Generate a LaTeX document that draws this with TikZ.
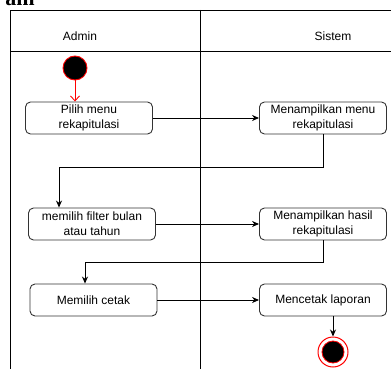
\documentclass[tikz,border=0pt]{standalone}
\usepackage{fontspec}
\setmainfont{Liberation Sans}
\newfontfamily\headfont{Liberation Serif}
\usetikzlibrary{arrows.meta,calc}
\begin{document}
\begin{tikzpicture}[x=1pt,y=-1pt,
  act/.style={draw=black!80, line width=0.9pt, rounded corners=5pt, minimum width=127pt, minimum height=32pt, align=center, inner sep=1pt, font=\fontsize{12}{15}\selectfont},
  lane/.style={draw=black, line width=0.9pt},
  flow/.style={draw=black, line width=0.9pt, -{Stealth[length=7pt,width=6pt]}},
  lbl/.style={font=\fontsize{12}{14}\selectfont},
  startst/.style={circle, fill=black, draw=red, line width=0.9pt, minimum size=24pt, inner sep=0pt},
  endring/.style={circle, draw=red, line width=1pt, minimum size=30pt, inner sep=0pt},
  endcore/.style={circle, fill=black, draw=red, line width=0.8pt, minimum size=22pt, inner sep=0pt}
]
\useasboundingbox (0,0) rectangle (391,369);
\clip (0,0) rectangle (391,369);
\fill[white] (0,0) rectangle (391,369);

% cropped heading
\node[anchor=base east, font=\headfont\bfseries\fontsize{22}{22}\selectfont, inner sep=0pt] (head) at (35,6) {am};

% swimlanes
\draw[lane] (395,10) -- (10,10) -- (10,375);
\draw[lane] (10,51) -- (395,51);
\draw[lane] (200,10) -- (200,375);
\node[lbl] (admin) at (80,36) {Admin};
\node[lbl] (sistem) at (333,36) {Sistem};

% states
\node[startst] (start) at (75,68) {};
\node[act] (b1) at (89,118) {Pilih menu\\rekapitulasi};
\node[act] (b2) at (323,118) {Menampilkan menu\\rekapitulasi};
\node[act] (b3) at (92,224) {memilih filter bulan\\atau tahun};
\node[act] (b4) at (323,224) {Menampilkan hasil\\rekapitulasi};
\node[act] (b5) at (93.5,300) {Memilih cetak};
\node[act] (b6) at (323,300) {Mencetak laporan};
\node[endring] (end) at (333,352) {};
\node[endcore] (endin) at (end.center) {};

% flows
\draw[red, line width=0.9pt, -{Straight Barb[length=5pt,width=9pt]}] (start) -- (b1.north -| start);
\draw[flow] (b1) -- (b2);
\coordinate (r1) at (59,167);
\draw[flow] (b2.south) |- (r1) -- (b3.north -| r1);
\draw[flow] (b3) -- (b4);
\coordinate (r2) at (85,262);
\draw[flow] (b4.south) |- (r2) -- (b5.north -| r2);
\draw[flow] (b5) -- (b6);
\draw[flow] (b6.south -| end) -- (end.north);
\end{tikzpicture}
\end{document}
